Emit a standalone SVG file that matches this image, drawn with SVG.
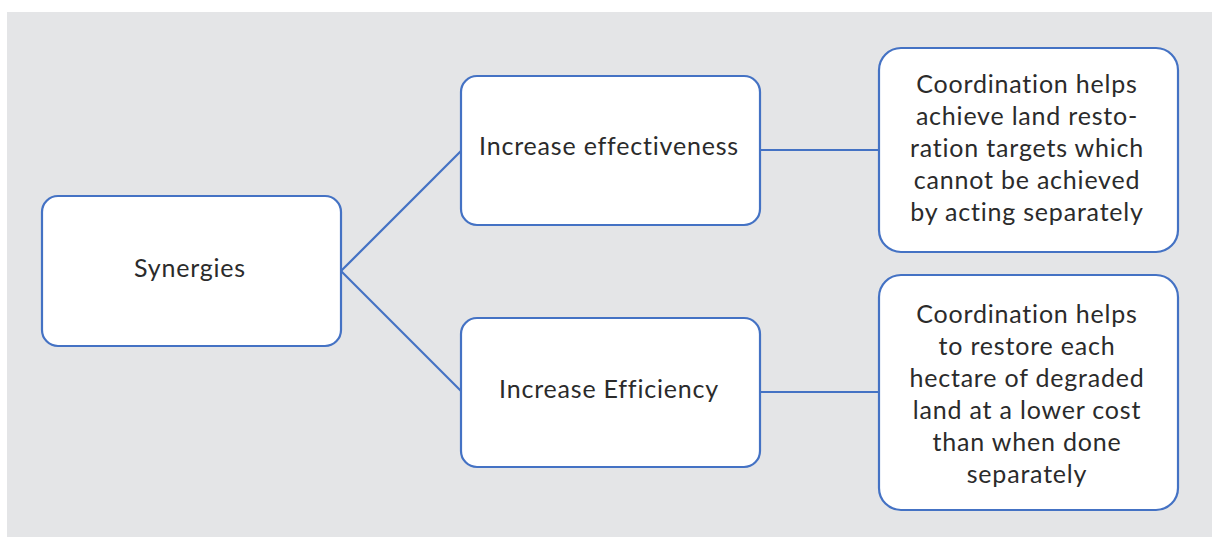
<svg xmlns="http://www.w3.org/2000/svg" width="1212" height="537" viewBox="0 0 1212 537">
<style>
.box{fill:#ffffff;stroke:#4472C4;stroke-width:2.2}
.t{font-family:Lato,"Noto Sans",sans-serif;font-size:25px;letter-spacing:0.8px;fill:#2b2b2b;text-anchor:middle}
.c{stroke:#4472C4;stroke-width:2.2;fill:none}
</style>
<rect x="7" y="12" width="1205" height="525" fill="#E4E5E7"/>
<g id="connectors">
<line class="c" x1="341" y1="271" x2="461" y2="151"/>
<line class="c" x1="341" y1="271" x2="461" y2="391"/>
<line class="c" x1="760" y1="150" x2="879" y2="150"/>
<line class="c" x1="760" y1="392" x2="879" y2="392"/>
</g>
<g id="synergies">
<rect class="box" x="42" y="196" width="299" height="150" rx="16"/>
<text class="t" x="190" y="277">Synergies</text>
</g>
<g id="effectiveness">
<rect class="box" x="461" y="76" width="299" height="149" rx="16"/>
<text class="t" x="609" y="155">Increase effectiveness</text>
</g>
<g id="efficiency">
<rect class="box" x="461" y="318" width="299" height="149" rx="16"/>
<text class="t" x="609" y="398">Increase Efficiency</text>
</g>
<g id="effectiveness-detail">
<rect class="box" x="879" y="48" width="299" height="204" rx="22"/>
<text class="t" x="1027" y="93">Coordination helps</text>
<text class="t" x="1027" y="125">achieve land resto-</text>
<text class="t" x="1027" y="157">ration targets which</text>
<text class="t" x="1027" y="189">cannot be achieved</text>
<text class="t" x="1027" y="221">by acting separately</text>
</g>
<g id="efficiency-detail">
<rect class="box" x="879" y="275" width="299" height="235" rx="22"/>
<text class="t" x="1027" y="323">Coordination helps</text>
<text class="t" x="1027" y="355">to restore each</text>
<text class="t" x="1027" y="387">hectare of degraded</text>
<text class="t" x="1027" y="419">land at a lower cost</text>
<text class="t" x="1027" y="451">than when done</text>
<text class="t" x="1027" y="483">separately</text>
</g>
</svg>
